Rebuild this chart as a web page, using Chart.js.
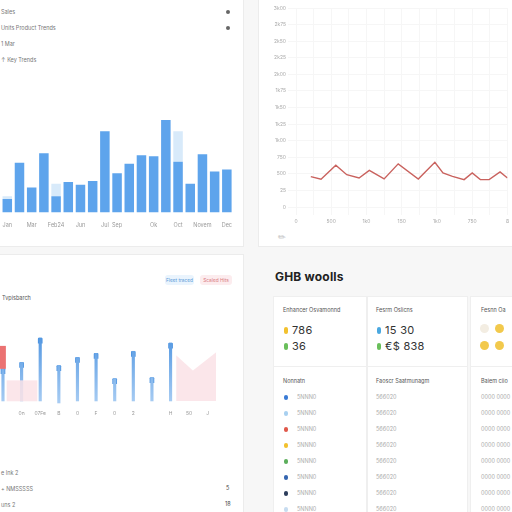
<!DOCTYPE html>
<html>
<head>
<meta charset="utf-8">
<script src="https://cdn.jsdelivr.net/npm/chart.js@4.4.0/dist/chart.umd.min.js"></script>
<style>
  html, body { margin: 0; padding: 0; }
  body { width: 512px; height: 512px; overflow: hidden; position: relative; background: #f7f7f7;
         font-family: "Inter", "Noto Sans", sans-serif; color: #666; }
  .panel { position: absolute; background: #fff; border: 1px solid #ececec; }
  .abs { position: absolute; white-space: nowrap; }
  .tiny { font-size: 5.5px; color: #777; }
  .dot { position: absolute; width: 4px; height: 4px; border-radius: 50%; background: #666; }
  .cv { position: absolute; }
  .pill { position: absolute; font-size: 4.8px; height: 10px; line-height: 10px; text-align: center; border-radius: 3px; }
  .card { position: absolute; background: #fff; border: 1px solid #efefef; }
  .big { font-size: 11px; color: #333; letter-spacing: 0.3px; }
  .mark { position: absolute; width: 4px; height: 7px; border-radius: 2px; }
  .circ { position: absolute; width: 9px; height: 9px; border-radius: 50%; }
  .ld { position: absolute; width: 4px; height: 5px; border-radius: 2px; }
  .row { font-size: 5.5px; color: #aaa; }
</style>
</head>
<body>
<div class="panel" style="left:-2px;top:-2px;width:244px;height:247px"></div>
<div class="panel" style="left:258px;top:-2px;width:262px;height:247px"></div>
<div class="panel" style="left:-2px;top:254px;width:244px;height:262px"></div>

<div class="abs tiny" style="left:1px;top:9px">Sales</div>
<div class="abs tiny" style="left:1px;top:25px">Units Product Trends</div>
<div class="abs tiny" style="left:1px;top:41px">1 Mar</div>
<div class="abs tiny" style="left:1px;top:57px">↑ Key Trends</div>
<div class="dot" style="left:226px;top:10px"></div>
<div class="dot" style="left:226px;top:26px"></div>
<div class="cv" style="left:-11px;top:98px;width:245px;height:133px"><canvas id="bars"></canvas></div>

<div class="cv" style="left:270px;top:3px;width:242px;height:220px"><canvas id="line"></canvas></div>
<div class="abs" style="left:278px;top:231px;font-size:9px;color:#bbb;transform:rotate(-40deg)">✎</div>

<div class="pill" style="left:165px;top:275px;width:29px;background:#eaf4fd;color:#5a9ad8">Fleet traced</div>
<div class="pill" style="left:200px;top:275px;width:32px;background:#fcecee;color:#d97a80">Scaled Hits</div>
<div class="abs tiny" style="left:2px;top:295px;color:#555">Tvpisbarch</div>
<div class="cv" style="left:0px;top:330px;width:232px;height:86px"><canvas id="lolli"></canvas></div>
<div class="abs tiny" style="left:1px;top:470px">e Ink 2</div>
<div class="abs tiny" style="left:1px;top:486px">+ NMSSSSS</div>
<div class="abs tiny" style="left:1px;top:502px">uns 2</div>
<div class="abs tiny" style="left:226px;top:485px;color:#444">5</div>
<div class="abs tiny" style="left:225px;top:501px;color:#444">18</div>

<div class="abs" style="left:275px;top:269px;font-size:12px;font-weight:700;color:#222;letter-spacing:0.2px">GHB woolls</div>
<div class="card" style="left:273px;top:296px;width:92px;height:70px"></div>
<div class="card" style="left:367px;top:296px;width:99px;height:70px"></div>
<div class="card" style="left:470px;top:296px;width:50px;height:70px"></div>
<div class="card" style="left:273px;top:366px;width:92px;height:150px"></div>
<div class="card" style="left:367px;top:366px;width:99px;height:150px"></div>
<div class="card" style="left:470px;top:366px;width:50px;height:150px"></div>
<div id="kpis"></div>
<div id="lists"></div>

<script>
// top-left bar chart
const barCategories = ['Jan','Jan','Mar','Mar','Feb','Feb 24','Apr','Jun','May','Jul','Sep','Sep','Oct','Ok','Nov','Oct','Nov','Novem','Dec','Dec'];
const barTickLabels = ['', 'Jan', '', 'Mar', '', 'Feb24', '', 'Jun', '', 'Jul', 'Sep', '', '', 'Ok', '', 'Oct', '', 'Novem', '', 'Dec'];
const darkValues = [0, 14, 52, 26, 62, 17, 32, 29, 33, 85, 41, 51, 60, 59, 97, 53, 30, 61, 43, 45];
const lightValues = [41, 3, 0, 0, 0, 13, 0, 0, 0, 0, 0, 0, 0, 0, 0, 32, 0, 0, 0, 0];

// top-right line chart
const lineX = [42, 71, 113, 144, 179, 208, 250, 290, 347, 394, 417, 444, 477, 500, 523, 548, 579, 600];
const lineY = [1.83, 1.68, 2.52, 1.95, 1.75, 2.21, 1.69, 2.6, 1.69, 2.7, 2.05, 1.85, 1.65, 2.05, 1.65, 1.65, 2.12, 1.75];
const lineYTicks = ['0','25','500','750','1k00','1k25','1k50','1k75','2k00','2k25','2k50','2k75','3k00'];
const lineXTicks = {0: '0', 100: '500', 200: '1k0', 300: '150', 400: '1k0', 500: '750', 600: '8'};

// bottom-left lollipop chart
const lolliX = [0, 1, 2, 3, 4, 5, 6, 7, 8, 9];
const lolliTop = [32, 38, 62, 35, 43, 47, 22, 49, 23, 57];
const lolliBottom = [0, 0, 0, -2, 0, 0, 0, 0, 0, 0];
const redRange = [32, 54];
const pinkBlock = 20;
const pinkAreaX = [9.3, 10.2, 11.45];
const pinkAreaY = [45, 30, 48];
const lolliTicks = ['8', '0n', '07Fe', 'B', '0', 'F', '0', '2', '', 'H', '50', 'J'];

// bottom-right cards
const kpiCards = [
  {title: 'Enhancer Osvamonnd', rows: [['#f2c12e', '786'], ['#6abf5b', '36']]},
  {title: 'Fesrm Oslicns', rows: [['#4aa8e0', '15 30'], ['#6abf5b', '€$ 838']]}
];
const listColors = ['#3a7bd5', '#a8d0f0', '#e0584a', '#f2c12e', '#5cae5c', '#3566b0', '#2d3e5c', '#c7dcf0'];
const listHeaders = ['Nonnatn', 'Faoscr Saatmunagm', 'Baiem ciio'];
const listCol1 = ['5NNN0', '5NNN0', '5NNN0', '5NNN0', '5NNN0', '5NNN0', '5NNN0', '5NNN0'];
const listCol2 = ['566020', '566020', '566020', '566020', '566020', '566020', '566020', '566020'];
const listCol3 = ['0000 0000', '0000 0000', '0000 0000', '0000 0000', '0000 0000', '0000 0000', '0000 0000', '0000 0000'];

Chart.defaults.animation = false;
Chart.defaults.font.family = 'Inter, "Noto Sans", sans-serif';
Chart.defaults.plugins.legend.display = false;
Chart.defaults.plugins.tooltip.enabled = false;
Chart.defaults.maintainAspectRatio = false;

new Chart(document.getElementById('bars'), {
  type: 'bar',
  data: {
    labels: barCategories,
    datasets: [
      {data: darkValues, backgroundColor: '#5ea4ec', barPercentage: 0.78, categoryPercentage: 1},
      {data: lightValues, backgroundColor: '#d8eafa', barPercentage: 0.78, categoryPercentage: 1}
    ]
  },
  options: {
    layout: {padding: 0},
    scales: {
      x: {stacked: true, grid: {display: false}, border: {display: false},
          ticks: {autoSkip: false, maxRotation: 0, padding: 2, color: '#999', font: {size: 5.5},
                  callback: (v, i) => barTickLabels[i]}},
      y: {stacked: true, display: false, min: 0, max: 120}
    }
  }
});

new Chart(document.getElementById('line'), {
  type: 'line',
  data: {
    datasets: [{
      data: lineX.map((x, i) => ({x: x, y: lineY[i]})),
      borderColor: '#c9625e', borderWidth: 1.4, pointRadius: 0, tension: 0
    }]
  },
  options: {
    layout: {padding: 0},
    scales: {
      x: {type: 'linear', min: 0, max: 600,
          grid: {color: '#f6f6f6'}, border: {display: false},
          ticks: {stepSize: 50, maxRotation: 0, padding: 3, color: '#aaa', font: {size: 5},
                  callback: v => lineXTicks[v] || ''},
          afterFit: s => { s.height = 16; }},
      y: {min: 0, max: 12, grid: {color: '#f6f6f6'}, border: {display: false},
          ticks: {stepSize: 1, padding: 2, color: '#aaa', font: {size: 5},
                  callback: v => lineYTicks[v]},
          afterFit: s => { s.width = 26; }}
    }
  }
});

// thin bars fade a little towards the baseline
function stemColor(ctx) {
  const area = ctx.chart.chartArea;
  if (!area) return '#5b9fe6';
  const g = ctx.chart.ctx.createLinearGradient(0, area.top, 0, area.bottom);
  g.addColorStop(0, '#4a92e0');
  g.addColorStop(1, '#a9cdf3');
  return g;
}

new Chart(document.getElementById('lolli'), {
  data: {
    datasets: [
      {type: 'line', data: pinkAreaX.map((x, i) => ({x: x, y: pinkAreaY[i]})), fill: 'origin',
       backgroundColor: 'rgba(250,226,230,0.85)', borderWidth: 0, pointRadius: 0, tension: 0},
      {type: 'bar', data: [{x: 1.02, y: pinkBlock}], backgroundColor: 'rgba(250,226,230,0.85)', barThickness: 30, grouped: false},
      {type: 'bar', data: [{x: -0.05, y: redRange}], backgroundColor: '#eb7272', barThickness: 7, grouped: false},
      {type: 'bar', data: lolliX.map((x, i) => ({x: x, y: [lolliBottom[i], lolliTop[i]]})),
       backgroundColor: stemColor, barThickness: 2.5, grouped: false},
      {type: 'bar', data: lolliX.map((x, i) => ({x: x, y: [lolliTop[i] - 5, lolliTop[i]]})),
       backgroundColor: '#4a92e0', barThickness: 4, grouped: false, borderRadius: 1}
    ]
  },
  options: {
    layout: {padding: 0},
    scales: {
      x: {type: 'linear', offset: false, min: -0.16, max: 12.3, grid: {display: false}, border: {display: false},
          ticks: {stepSize: 1, maxRotation: 0, padding: -2, color: '#999', font: {size: 5},
                  callback: v => lolliTicks[v]},
          afterFit: s => { s.height = 12; }},
      y: {display: false, min: -3, max: 70}
    }
  }
});

// cards drawn as plain HTML
let kpiHtml = '';
kpiCards.forEach((c, ci) => {
  const left = ci === 0 ? 283 : 376;
  kpiHtml += '<div class="abs tiny" style="left:' + left + 'px;top:307px;color:#555">' + c.title + '</div>';
  c.rows.forEach((r, ri) => {
    const top = 323 + ri * 16;
    kpiHtml += '<div class="mark" style="left:' + (left + 1) + 'px;top:' + (top + 4) + 'px;background:' + r[0] + '"></div>';
    kpiHtml += '<div class="abs big" style="left:' + (left + 9) + 'px;top:' + top + 'px">' + r[1] + '</div>';
  });
});
kpiHtml += '<div class="abs tiny" style="left:481px;top:307px;color:#555">Fesnn Oa</div>';
kpiHtml += '<div class="circ" style="left:480px;top:324px;background:#f3ede2"></div>';
kpiHtml += '<div class="circ" style="left:495px;top:324px;background:#f2c94c"></div>';
kpiHtml += '<div class="circ" style="left:480px;top:341px;background:#f2c94c"></div>';
kpiHtml += '<div class="circ" style="left:495px;top:341px;background:#f2c94c"></div>';
document.getElementById('kpis').innerHTML = kpiHtml;

let listHtml = '';
[283, 376, 481].forEach((x, i) => {
  listHtml += '<div class="abs tiny" style="left:' + x + 'px;top:378px;color:#555">' + listHeaders[i] + '</div>';
});
listColors.forEach((col, i) => {
  const top = 394 + i * 16;
  listHtml += '<div class="ld" style="left:284px;top:' + (top + 1) + 'px;background:' + col + '"></div>';
  listHtml += '<div class="abs row" style="left:297px;top:' + top + 'px">' + listCol1[i] + '</div>';
  listHtml += '<div class="abs row" style="left:376px;top:' + top + 'px">' + listCol2[i] + '</div>';
  listHtml += '<div class="abs row" style="left:481px;top:' + top + 'px">' + listCol3[i] + '</div>';
});
document.getElementById('lists').innerHTML = listHtml;
</script>
</body>
</html>
